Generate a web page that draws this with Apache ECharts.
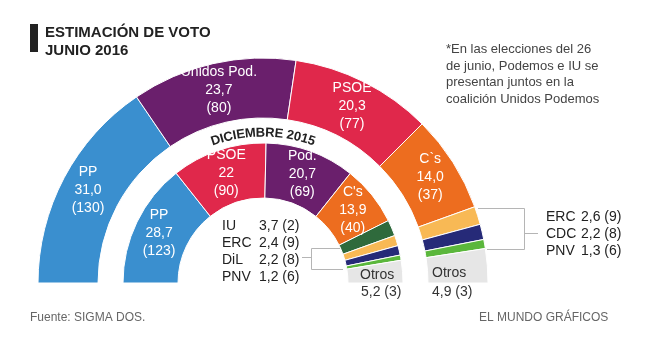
<!DOCTYPE html>
<html>
<head>
<meta charset="utf-8">
<script src="https://cdn.jsdelivr.net/npm/echarts@6/dist/echarts.min.js"></script>
<style>
  html, body { margin: 0; padding: 0; background: #fff; }
  #chart { width: 650px; height: 353px; }
</style>
</head>
<body>
<div id="chart"></div>
<script>
// junio 2016 (anillo exterior)
const junioNames = ['PP', 'Unidos Pod.', 'PSOE', 'C`s', 'ERC', 'CDC', 'PNV', 'Otros'];
const junioVotes = [31.0, 23.7, 20.3, 14.0, 2.6, 2.2, 1.3, 4.9];
const junioSeats = [130, 80, 77, 37, 9, 8, 6, 3];
// diciembre 2015 (anillo interior)
const dicNames = ['PP', 'PSOE', 'Pod.', "C's", 'IU', 'ERC', 'DiL', 'PNV', 'Otros'];
const dicVotes = [28.7, 22, 20.7, 13.9, 3.7, 2.4, 2.2, 1.2, 5.2];
const dicSeats = [123, 90, 69, 40, 2, 9, 8, 6, 3];

const partyColors = {
    'PP': '#3a8fcf', 'Unidos Pod.': '#6a1f6c', 'Pod.': '#6a1f6c', 'PSOE': '#e0284b',
    'C`s': '#ed6d1f', "C's": '#ed6d1f', 'ERC': '#f8b955', 'CDC': '#262a78', 'DiL': '#262a78',
    'PNV': '#5bb73c', 'IU': '#2f6a3c', 'Otros': '#e6e6e6'
};

const FONT = '"Liberation Sans", Arial, sans-serif';
const cx = 263, cy = 283;

function fmtOuter(v) { return v.toFixed(1).replace('.', ','); }
function fmtInner(v) { return Number.isInteger(v) ? String(v) : v.toFixed(1).replace('.', ','); }

function buildData(names, votes, seats, fmt) {
    return names.map(function (n, i) {
        return {
            name: n,
            value: votes[i],
            itemStyle: { color: partyColors[n] },
            label: {
                show: votes[i] > 10,
                formatter: n + '\n' + fmt(votes[i]) + '\n(' + seats[i] + ')'
            }
        };
    });
}

// texto curvo "DICIEMBRE 2015"
function curvedText(str, r, font) {
    var ctx = document.createElement('canvas').getContext('2d');
    ctx.font = font;
    var widths = str.split('').map(function (c) { return ctx.measureText(c).width; });
    var total = widths.reduce(function (a, b) { return a + b; }, 0);
    var els = [];
    var s = 0;
    str.split('').forEach(function (c, i) {
        var mid = s + widths[i] / 2;
        s += widths[i];
        var th = Math.PI / 2 + (total / 2 - mid) / r;
        els.push({
            type: 'text', z: 1,
            x: cx + r * Math.cos(th),
            y: cy - r * Math.sin(th),
            rotation: th - Math.PI / 2,
            style: { text: c, font: font, fill: '#222', textAlign: 'center', textVerticalAlign: 'middle' }
        });
    });
    return els;
}

function txt(x, y, text, font, fill, z) {
    return { type: 'text', z: z || 1, x: x, y: y, style: { text: text, font: font, fill: fill, textVerticalAlign: 'middle' } };
}

function listText(names, votes, seats, idx, xName, xVal, y0, step) {
    var els = [];
    idx.forEach(function (k, j) {
        var y = y0 + j * step;
        els.push(txt(xName, y, names[k], '14px ' + FONT, '#222'));
        els.push(txt(xVal, y, fmtOuter(votes[k]) + ' (' + seats[k] + ')', '14px ' + FONT, '#222'));
    });
    return els;
}

var line = function (pts) {
    return { type: 'polyline', z: 1, shape: { points: pts }, style: { stroke: '#b5b5b5', lineWidth: 1, fill: null } };
};

var chart = echarts.init(document.getElementById('chart'));

var oi = junioNames.length - 1, di = dicNames.length - 1;
var graphics = [
    { type: 'rect', z: 1, shape: { x: 30, y: 24, width: 8, height: 28 }, style: { fill: '#222' } },
    { type: 'text', z: 1, x: 45, y: 24, style: { text: 'ESTIMACIÓN DE VOTO\nJUNIO 2016', font: 'bold 15px ' + FONT, lineHeight: 18, fill: '#222' } },
    { type: 'text', z: 1, x: 446, y: 41, style: { text: '*En las elecciones del 26\nde junio, Podemos e IU se\npresentan juntos en la\ncoalición Unidos Podemos', font: '13px ' + FONT, lineHeight: 16.7, fill: '#444' } },
    txt(30, 318, 'Fuente: SIGMA DOS.', '12px ' + FONT, '#666'),
    txt(479, 318, 'EL MUNDO GRÁFICOS', '12px ' + FONT, '#666'),
    // Otros (encima de la porción gris)
    txt(432, 273, junioNames[oi], '14px ' + FONT, '#333', 300),
    txt(432, 292, fmtOuter(junioVotes[oi]) + ' (' + junioSeats[oi] + ')', '14px ' + FONT, '#333', 300),
    txt(360, 275, dicNames[di], '14px ' + FONT, '#333', 300),
    txt(361, 292, fmtOuter(dicVotes[di]) + ' (' + dicSeats[di] + ')', '14px ' + FONT, '#333', 300),
    // corchetes
    line([[340, 248.5], [311.5, 248.5], [311.5, 269.5], [343, 269.5]]),
    line([[302, 257.5], [311.5, 257.5]]),
    line([[478, 208.5], [524.5, 208.5], [524.5, 249.5], [487, 249.5]]),
    line([[524.5, 233.5], [538, 233.5]])
].concat(
    listText(dicNames, dicVotes, dicSeats, [4, 5, 6, 7], 222, 259, 226, 17),
    listText(junioNames, junioVotes, junioSeats, [4, 5, 6], 546, 581, 217, 17),
    curvedText('DICIEMBRE 2015', 150, 'bold 13px ' + FONT)
);

var pieCommon = {
    type: 'pie',
    z: 200,
    center: [cx, cy],
    startAngle: 180,
    endAngle: 0,
    clockwise: true,
    avoidLabelOverlap: false,
    silent: true,
    labelLine: { show: false },
    itemStyle: { borderColor: '#fff', borderWidth: 1 },
    label: { position: 'inside', color: '#fff', fontSize: 14, lineHeight: 18, fontFamily: FONT, textBorderWidth: 0 },
    emphasis: { disabled: true }
};

chart.setOption({
    animation: false,
    backgroundColor: '#fff',
    series: [
        Object.assign({}, pieCommon, { radius: [165, 225], data: buildData(junioNames, junioVotes, junioSeats, fmtOuter) }),
        Object.assign({}, pieCommon, { radius: [85, 140], data: buildData(dicNames, dicVotes, dicSeats, fmtInner) })
    ],
    graphic: graphics
});
</script>
</body>
</html>
